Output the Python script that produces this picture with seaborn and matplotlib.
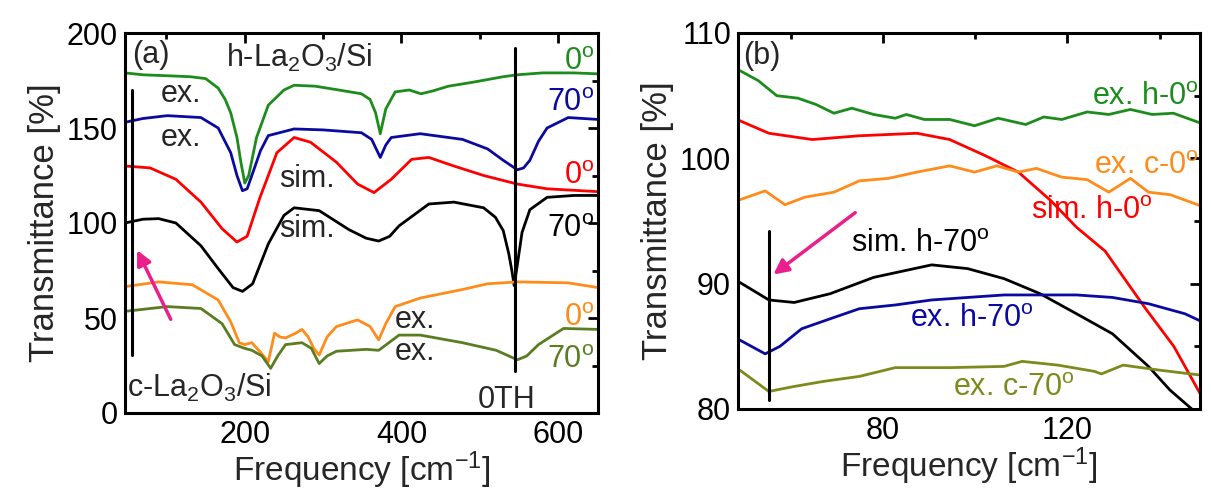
import numpy as np
import pandas as pd
import matplotlib
matplotlib.use("Agg")
import matplotlib.pyplot as plt
import seaborn as sns
from matplotlib.ticker import MultipleLocator

sns.set_theme(style="white")
plt.rcParams['font.family'] = ['Liberation Sans', 'DejaVu Sans']
plt.rcParams['mathtext.fontset'] = 'custom'
plt.rcParams['mathtext.rm'] = 'Liberation Sans'
plt.rcParams['mathtext.it'] = 'Liberation Sans'

# ---------------- Panel (a) data ----------------
a_ex_h0_x = [47, 70, 101, 130, 150, 166, 175, 182, 190, 195, 200, 205, 215, 230, 250, 263, 290, 320, 349, 360, 367, 373, 380, 392, 410, 425, 440, 460, 490, 510, 530, 548, 580, 620, 651]
a_ex_h0_y = [179, 178, 177.5, 177, 176, 171, 165, 158, 145, 132, 121, 125, 145, 162, 170, 172.5, 172, 170, 168, 165, 158, 147, 160, 169, 170, 168, 169.5, 172, 174, 175.5, 177, 178, 179, 179, 178.5]

a_ex_h70_x = [47, 70, 101, 144, 166, 182, 190, 197, 203, 209, 220, 230, 263, 300, 349, 362, 373, 380, 387, 424, 478, 510, 530, 548, 556, 564, 575, 586, 613, 651]
a_ex_h70_y = [153, 155, 156.5, 155.5, 150, 137, 125, 117, 118, 125, 138, 146, 149.5, 149, 147.5, 144, 134.5, 141, 145, 147, 144, 139, 133, 128, 129, 133, 143, 150, 155.5, 154.5]

a_sim_h0_x = [47, 79, 112, 144, 171, 190, 203, 219, 241, 263, 284, 317, 344, 365, 387, 413, 435, 467, 505, 548, 586, 651]
a_sim_h0_y = [130, 129, 123, 111, 97, 90, 93, 113, 137, 145, 142.5, 132, 120.5, 116, 123, 133.5, 134.5, 130, 125, 120.5, 118, 116.5]

a_sim_h70_x = [47, 70, 90, 112, 144, 166, 185, 197, 210, 230, 250, 263, 295, 333, 355, 371, 385, 397, 435, 467, 505, 520, 530, 537, 541, 544, 548, 554, 564, 586, 620, 651]
a_sim_h70_y = [100, 102, 102.3, 100, 88, 76, 66, 64, 68, 89, 104, 108, 106.5, 96.5, 92, 90.5, 93, 98.5, 110, 111, 108, 103, 96, 84, 75, 67, 78, 95, 107, 113.5, 114.5, 114.5]

a_ex_c0_x = [47, 90, 133, 166, 182, 193, 200, 209, 220, 230, 238, 245, 252, 265, 273, 281, 288, 295, 305, 317, 344, 360, 371, 380, 392, 424, 478, 510, 548, 613, 651]
a_ex_c0_y = [66.5, 69, 67.5, 59.5, 48, 37, 36, 37, 32, 27, 42, 40, 39.5, 42, 44, 40, 34, 30.5, 40, 45.5, 49, 45.5, 38.5, 47, 56, 60.5, 65, 68, 69, 68.5, 66]

a_ex_c70_x = [47, 101, 144, 171, 187, 200, 209, 222, 233, 242, 252, 273, 285, 295, 305, 317, 355, 371, 397, 424, 478, 521, 548, 560, 575, 607, 651]
a_ex_c70_y = [53.5, 56, 55, 47, 36, 34, 33, 30, 23.5, 30, 36, 37, 34, 26, 30, 32.5, 33.5, 33, 41, 41, 37, 33, 28, 30, 36, 44.5, 44]

# ---------------- Panel (b) data ----------------
b_ex_h0_x = [49, 53, 57, 61.6, 65.5, 69.4, 73.3, 78, 82.7, 85.1, 89, 94.5, 99.9, 105, 111, 114.9, 118.8, 124.3, 129, 133.7, 138.4, 143, 149]
b_ex_h0_y = [107, 106.2, 105, 104.8, 104.3, 103.6, 104, 103.5, 103.2, 103.5, 103.1, 103.1, 102.6, 103.2, 102.7, 103.3, 103.1, 103.7, 103.5, 103.9, 103.5, 103.6, 102.8]

b_sim_h0_x = [49, 55.3, 64.7, 74.9, 87.4, 94.5, 102.3, 109.4, 116.5, 122, 128.2, 136.8, 143.1, 149]
b_sim_h0_y = [103, 102, 101.5, 101.8, 102, 101.5, 100.2, 98.9, 96.6, 94.5, 92.6, 88.1, 85, 81.1]

b_ex_c0_x = [49, 54.5, 58.8, 63.1, 69.4, 74.9, 81.2, 87.4, 94.5, 99.9, 104.7, 109.4, 113.3, 118.8, 124.3, 129, 133.7, 137.6, 142.3, 149]
b_ex_c0_y = [96.7, 97.4, 96.3, 96.9, 97.3, 98.2, 98.4, 98.9, 99.4, 98.9, 99.4, 98.9, 99.2, 98.5, 98.3, 97.3, 98.4, 97.3, 97.1, 96.2]

b_sim_h70_x = [49, 55.3, 60.8, 68.6, 78, 90.6, 98.4, 106.3, 114.1, 122, 129.8, 137.6, 142.3, 147]
b_sim_h70_y = [90.1, 88.7, 88.5, 89.2, 90.5, 91.5, 91.2, 90.4, 89.2, 87.6, 86, 83.4, 81.5, 80]

b_ex_h70_x = [49, 54.5, 57.7, 62.4, 68.6, 74.9, 82.7, 90.6, 98.4, 106.3, 114.1, 122, 129.8, 137.6, 145.5, 149]
b_ex_h70_y = [85.5, 84.4, 85, 86.4, 87.2, 88, 88.3, 88.7, 88.9, 89.1, 89.1, 89.1, 88.9, 88.4, 87.6, 87]

b_ex_c70_x = [49, 55.3, 60.8, 67.1, 74.9, 82.7, 94.5, 106.3, 110.2, 118, 125.9, 127.4, 132.1, 140, 149]
b_ex_c70_y = [83.1, 81.4, 81.8, 82.2, 82.6, 83.3, 83.3, 83.4, 83.8, 83.5, 83, 82.8, 83.5, 83.1, 82.7]

GREEN = '#1c8c1c'
BLUE = '#0a0aa0'
RED = '#ff0000'
BLACK = '#000000'
ORANGE = '#ff8c1a'
OLIVE = '#7f8a1c'
OLIVE_A = '#5a7d22'
PINK = '#ea1f8c'

fig = plt.figure(figsize=(12.11, 5), dpi=100)
axa = fig.add_axes([0.1032, 0.174, 0.3906, 0.760])
axb = fig.add_axes([0.6094, 0.182, 0.3816, 0.752])

LW = 2.0
def draw(ax, x, y, c):
    sns.lineplot(x=x, y=y, ax=ax, color=c, lw=LW, sort=False, estimator=None)

for x, y, c in [(a_ex_h0_x, a_ex_h0_y, GREEN), (a_ex_h70_x, a_ex_h70_y, BLUE),
                (a_sim_h0_x, a_sim_h0_y, RED), (a_sim_h70_x, a_sim_h70_y, BLACK),
                (a_ex_c0_x, a_ex_c0_y, ORANGE), (a_ex_c70_x, a_ex_c70_y, OLIVE_A)]:
    draw(axa, x, y, c)

for x, y, c in [(b_ex_h0_x, b_ex_h0_y, GREEN), (b_sim_h0_x, b_sim_h0_y, RED),
                (b_ex_c0_x, b_ex_c0_y, ORANGE), (b_sim_h70_x, b_sim_h70_y, BLACK),
                (b_ex_h70_x, b_ex_h70_y, BLUE), (b_ex_c70_x, b_ex_c70_y, OLIVE)]:
    draw(axb, x, y, c)

# vertical marker lines and arrows
axa.plot([545, 545], [22, 192], color='black', lw=2.2)
axa.plot([56, 56], [30.5, 170], color='black', lw=2.2)
axa.annotate('', xy=(61, 87), xytext=(107, 48),
             arrowprops=dict(arrowstyle='-|>', color=PINK, lw=2.5, mutation_scale=22))
axb.plot([55.3, 55.3], [80.7, 94.2], color='black', lw=2.2)
axb.annotate('', xy=(55.8, 90.6), xytext=(74.5, 95.8),
             arrowprops=dict(arrowstyle='-|>', color=PINK, lw=2.5, mutation_scale=22))

FS_T = 22
FS_X = 24
FS_Y = 25
FS_A = 22
DEG = '$^\\mathrm{o}$'

# Panel (a) text
axa.text(56, 188.5, '(a)', fontsize=FS_A, va='center', ha='left')
axa.text(176, 187, 'h-La$_2$O$_3$/Si', fontsize=FS_A, va='center', ha='left')
axa.text(646, 185, '0' + DEG, fontsize=FS_A, color=GREEN, va='center', ha='right')
axa.text(93, 168, 'ex.', fontsize=FS_A, va='center', ha='left')
axa.text(646, 163, '70' + DEG, fontsize=FS_A, color=BLUE, va='center', ha='right')
axa.text(93, 145, 'ex.', fontsize=FS_A, va='center', ha='left')
axa.text(244, 123, 'sim.', fontsize=FS_A, va='center', ha='left')
axa.text(646, 125, '0' + DEG, fontsize=FS_A, color=RED, va='center', ha='right')
axa.text(244, 97, 'sim.', fontsize=FS_A, va='center', ha='left')
axa.text(646, 97, '70' + DEG, fontsize=FS_A, color=BLACK, va='center', ha='right')
axa.text(392, 49, 'ex.', fontsize=FS_A, va='center', ha='left')
axa.text(646, 50, '0' + DEG, fontsize=FS_A, color=ORANGE, va='center', ha='right')
axa.text(392, 32, 'ex.', fontsize=FS_A, va='center', ha='left')
axa.text(646, 28, '70' + DEG, fontsize=FS_A, color=OLIVE_A, va='center', ha='right')
axa.text(50, 13, 'c-La$_2$O$_3$/Si', fontsize=FS_A, va='center', ha='left')
axa.text(497, 7, '0TH', fontsize=FS_A, va='center', ha='left')

# Panel (b) text
axb.text(49.8, 108.2, '(b)', fontsize=FS_A, va='center', ha='left')
axb.text(148.5, 104.9, 'ex. h-0' + DEG, fontsize=FS_A, color=GREEN, va='center', ha='right')
axb.text(148.5, 99.4, 'ex. c-0' + DEG, fontsize=FS_A, color=ORANGE, va='center', ha='right')
axb.text(138.5, 95.8, 'sim. h-0' + DEG, fontsize=FS_A, color=RED, va='center', ha='right')
axb.text(73.0, 93.2, 'sim. h-70' + DEG, fontsize=FS_A, color=BLACK, va='center', ha='left')
axb.text(85.9, 87.2, 'ex. h-70' + DEG, fontsize=FS_A, color=BLUE, va='center', ha='left')
axb.text(95.3, 81.7, 'ex. c-70' + DEG, fontsize=FS_A, color=OLIVE, va='center', ha='left')

# Axes formatting
axa.set_xlim(47, 651)
axa.set_ylim(0, 200)
axa.xaxis.set_major_locator(MultipleLocator(200))
axa.xaxis.set_minor_locator(MultipleLocator(100))
axa.yaxis.set_major_locator(MultipleLocator(50))
axa.yaxis.set_minor_locator(MultipleLocator(25))

axb.set_xlim(48.6, 148.8)
axb.set_ylim(80, 110)
axb.xaxis.set_major_locator(MultipleLocator(40))
axb.xaxis.set_minor_locator(MultipleLocator(20))
axb.yaxis.set_major_locator(MultipleLocator(10))
axb.yaxis.set_minor_locator(MultipleLocator(5))

for ax in (axa, axb):
    for s in ax.spines.values():
        s.set_linewidth(2.2)
        s.set_color('black')
    ax.tick_params(which='both', direction='in', top=True, right=True, width=2, colors='black')
    ax.tick_params(which='major', length=7, labelsize=FS_T, pad=5)
    ax.tick_params(which='minor', length=4)
    ax.set_xlabel('Frequency [cm$^{-1}$]', fontsize=FS_X, labelpad=0)
    ax.set_ylabel('Transmittance [%]', fontsize=FS_Y, labelpad=4)
    ax.grid(False)

fig.savefig('out.png', dpi=100)
